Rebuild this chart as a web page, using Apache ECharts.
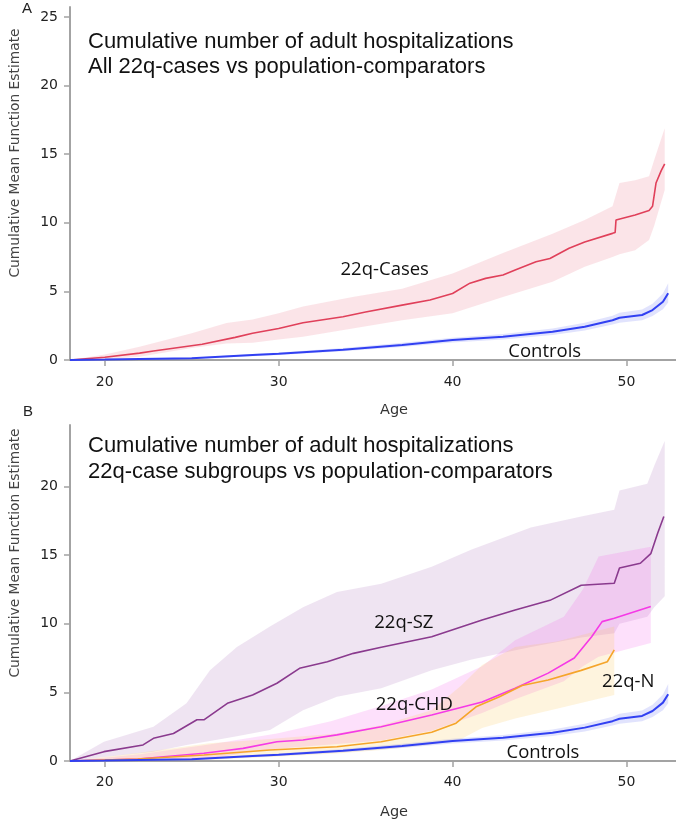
<!DOCTYPE html>
<html>
<head>
<meta charset="utf-8">
<script src="https://cdn.jsdelivr.net/npm/echarts@6/dist/echarts.min.js"></script>
<style>
  html, body { margin: 0; padding: 0; background: #fff; }
  #chart { width: 676px; height: 824px; }
</style>
</head>
<body>
<div id="chart"></div>
<script>
// tick labels
var xTicks = [20, 30, 40, 50];
var yTicksA = [0, 5, 10, 15, 20, 25];
var yTicksB = [0, 5, 10, 15, 20];

// panel A: all 22q cases
var casesAge = [18, 20, 22, 22.8, 25.6, 27.5, 28.5, 30, 31.4, 33.7, 35, 37.1, 38.7, 40, 41, 41.9, 42.9, 43.6, 44.8, 45.6, 46.7, 47.6, 49.2, 49.35, 49.4, 50.5, 51.3, 51.5, 51.7, 52, 52.2];
var casesVal = [0, 0.2, 0.5, 0.65, 1.15, 1.65, 1.95, 2.3, 2.72, 3.15, 3.5, 4.0, 4.37, 4.85, 5.6, 5.95, 6.2, 6.56, 7.16, 7.4, 8.14, 8.6, 9.23, 9.3, 10.2, 10.57, 10.9, 11.2, 12.9, 13.8, 14.3];
var casesBandAge = [18, 20, 22, 25, 27, 28.5, 30, 31.4, 34.25, 37.1, 40, 42.9, 45.75, 47.6, 49.2, 49.6, 50.5, 51.3, 51.6, 52.2];
var casesUpper = [0, 0.4, 0.97, 1.95, 2.7, 2.95, 3.4, 3.9, 4.6, 5.2, 6.3, 7.8, 9.2, 10.2, 11.2, 12.9, 13.1, 13.4, 14.6, 16.9];
var casesLower = [0, 0.05, 0.24, 0.87, 1.2, 1.25, 1.5, 1.7, 2.3, 2.9, 3.4, 4.6, 5.7, 6.8, 7.5, 7.7, 8.0, 8.75, 9.8, 12.4];

// controls (same comparator curve in both panels)
var ctrlAge = [18, 20, 25, 28.5, 30, 33.7, 37.1, 40, 42.9, 45.75, 47.6, 49.2, 49.6, 50.9, 51.5, 52.1, 52.4];
var ctrlVal = [0, 0.03, 0.12, 0.36, 0.45, 0.75, 1.1, 1.45, 1.7, 2.06, 2.43, 2.9, 3.08, 3.28, 3.64, 4.25, 4.86];
var ctrlLower = [0, 0.02, 0.08, 0.28, 0.36, 0.63, 0.95, 1.28, 1.5, 1.82, 2.15, 2.58, 2.72, 2.9, 3.2, 3.7, 4.2];
var ctrlUpper = [0, 0.04, 0.16, 0.44, 0.55, 0.88, 1.25, 1.62, 1.9, 2.3, 2.72, 3.22, 3.45, 3.68, 4.1, 4.85, 5.6];

// panel B: 22q-SZ
var szAge = [18, 19.95, 22.2, 22.8, 23.95, 25.3, 25.7, 27.05, 28.5, 29.9, 31.2, 32.8, 34.3, 35.9, 38.8, 41.7, 43.6, 45.6, 47.4, 49.3, 49.6, 50.8, 51.4, 51.8, 52.15];
var szVal = [0, 0.68, 1.17, 1.65, 2.0, 3.0, 3.0, 4.2, 4.8, 5.66, 6.75, 7.23, 7.84, 8.28, 9.05, 10.27, 11.0, 11.7, 12.8, 12.94, 14.05, 14.4, 15.1, 16.6, 17.8];
var szBandAge = [18, 19.95, 22.8, 24.7, 26.05, 27.6, 29.5, 31.4, 33.35, 35.9, 38.8, 41.1, 44.5, 47.4, 49.3, 49.6, 51.2, 51.6, 52.2];
var szUpper = [0, 1.4, 2.5, 4.2, 6.6, 8.3, 9.8, 11.2, 12.3, 12.9, 14.15, 15.4, 17.0, 17.8, 18.3, 19.7, 20.2, 21.5, 23.3];
var szLower = [0, 0.3, 0.68, 1.17, 1.45, 1.8, 2.26, 3.7, 4.68, 5.3, 6.6, 7.4, 8.3, 9.0, 9.3, 10.0, 10.5, 11.2, 12.0];

// panel B: 22q-CHD
var chdAge = [18, 21.9, 25.7, 27.2, 27.95, 29.9, 31.4, 33.35, 35.9, 38.8, 41.7, 43.6, 45.5, 47.0, 48.0, 48.6, 49.3, 51.4];
var chdVal = [0, 0.15, 0.56, 0.8, 0.92, 1.4, 1.53, 1.9, 2.5, 3.35, 4.3, 5.3, 6.4, 7.5, 9.05, 10.15, 10.4, 11.25];
var chdBandAge = [18, 22, 26, 29.9, 33, 35.9, 38.8, 41.7, 43.6, 46.4, 47.5, 48.4, 51.4];
var chdUpper = [0, 0.5, 1.2, 2.0, 2.9, 4.0, 5.2, 6.9, 8.8, 10.5, 12.5, 14.9, 15.6];
var chdLower = [0, 0.02, 0.2, 0.9, 1.2, 1.5, 2.2, 3.5, 4.5, 5.8, 6.9, 7.6, 8.6];

// panel B: 22q-N
var nAge = [18, 21.9, 25.7, 29.5, 33.35, 35.9, 38.8, 40.2, 41.35, 42.7, 44.0, 45.5, 47.4, 48.9, 49.3];
var nVal = [0, 0.15, 0.44, 0.8, 1.04, 1.4, 2.1, 2.75, 3.95, 4.68, 5.5, 5.9, 6.6, 7.23, 8.1];
var nBandAge = [18, 22, 26, 29.5, 33.35, 35.9, 38.8, 40.5, 41.7, 43.6, 46, 49.3];
var nUpper = [0, 0.6, 1.3, 1.6, 2.0, 2.6, 3.7, 5.5, 7.0, 8.3, 8.7, 9.8];
var nLower = [0, 0, 0.1, 0.3, 0.55, 0.8, 1.2, 1.6, 2.4, 3.1, 3.8, 4.8];

var tickFont = 'DejaVu Sans';
var axisGray = '#a3a3a3';

function pairs(xs, ys) {
    return xs.map(function (x, i) { return [x, ys[i]]; });
}

// confidence band drawn as one polygon through the axis scales
function band(idx, ages, lo, hi, fill) {
    return {
        type: 'custom',
        xAxisIndex: idx,
        yAxisIndex: idx,
        silent: true,
        z: 1,
        data: [[ages[0], lo[0]]],
        renderItem: function (params, api) {
            var pts = [];
            for (var i = 0; i < ages.length; i++) pts.push(api.coord([ages[i], hi[i]]));
            for (var j = ages.length - 1; j >= 0; j--) pts.push(api.coord([ages[j], lo[j]]));
            return { type: 'polygon', shape: { points: pts }, style: { fill: fill } };
        }
    };
}

function curve(idx, name, ages, vals, color, width, labelAt) {
    return {
        type: 'line',
        name: name,
        xAxisIndex: idx,
        yAxisIndex: idx,
        data: pairs(ages, vals),
        showSymbol: false,
        z: 3,
        lineStyle: { color: color, width: width },
        itemStyle: { color: color },
        markPoint: {
            symbol: 'circle',
            symbolSize: 1,
            itemStyle: { color: 'transparent' },
            label: {
                show: true,
                position: 'inside',
                formatter: name,
                color: '#111',
                fontSize: 18.5,
                fontFamily: 'Open Sans'
            },
            data: [{ coord: labelAt }]
        }
    };
}

function xAxisFor(idx, off, gap) {
    return {
        type: 'value',
        gridIndex: idx,
        min: 18,
        max: 52.85,
        offset: off,
        name: 'Age',
        nameLocation: 'middle',
        nameGap: gap,
        nameTextStyle: { color: '#333', fontSize: 14.5, fontFamily: tickFont, padding: [0, 0, 0, 42] },
        axisLine: { lineStyle: { color: axisGray, width: 2 } },
        axisTick: { show: true, length: 6, customValues: xTicks, lineStyle: { color: axisGray, width: 1.5 } },
        axisLabel: { customValues: xTicks, margin: 12, color: '#222', fontSize: 14, fontFamily: tickFont },
        splitLine: { show: false }
    };
}

function yAxisFor(idx, top, ticks, shift) {
    return {
        type: 'value',
        gridIndex: idx,
        min: 0,
        max: top,
        name: 'Cumulative Mean Function Estimate',
        nameLocation: 'middle',
        nameRotate: 90,
        nameGap: 48,
        nameTextStyle: { color: '#444', fontSize: 13.8, fontFamily: tickFont, padding: [0, 0, 0, shift] },
        axisLine: { show: true, lineStyle: { color: axisGray, width: 2 } },
        axisTick: { show: true, length: 6, customValues: ticks, lineStyle: { color: axisGray, width: 1.5 } },
        axisLabel: { customValues: ticks, margin: 12, color: '#222', fontSize: 14, fontFamily: tickFont },
        splitLine: { show: false }
    };
}

var titleStyle = { fontSize: 22, fontWeight: 'normal', fontFamily: 'Liberation Sans', color: '#111' };

var option = {
    animation: false,
    backgroundColor: '#fff',
    title: [{
        text: 'Cumulative number of adult hospitalizations\nAll 22q-cases vs population-comparators',
        left: 88, top: 29.5, padding: 0,
        textStyle: Object.assign({ lineHeight: 25 }, titleStyle)
    }, {
        text: 'Cumulative number of adult hospitalizations\n22q-case subgroups vs population-comparators',
        left: 88, top: 432.5, padding: 0,
        textStyle: Object.assign({ lineHeight: 26 }, titleStyle)
    }],
    graphic: [
        { type: 'text', left: 22, top: 1, style: { text: 'A', fontSize: 15, fontFamily: 'Liberation Sans', fill: '#222' } },
        { type: 'text', left: 23, top: 404, style: { text: 'B', fontSize: 15, fontFamily: 'Liberation Sans', fill: '#222' } }
    ],
    grid: [
        { left: 68, right: 0, top: 7, height: 353 },
        { left: 68, right: 0, top: 425, height: 336 }
    ],
    xAxis: [xAxisFor(0, 3, 40), xAxisFor(1, 2, 42)],
    yAxis: [yAxisFor(0, 25.73, yTicksA, 61), yAxisFor(1, 24.47, yTicksB, 80)],
    series: [
        band(0, casesBandAge, casesLower, casesUpper, 'rgba(228, 90, 110, 0.16)'),
        band(0, ctrlAge, ctrlLower, ctrlUpper, 'rgba(70, 80, 240, 0.16)'),
        curve(0, '22q-Cases', casesAge, casesVal, '#e0405a', 1.6, [36.1, 6.56]),
        curve(0, 'Controls', ctrlAge, ctrlVal, '#3140f2', 2, [45.3, 0.58]),

        band(1, szBandAge, szLower, szUpper, 'rgba(160, 95, 175, 0.17)'),
        band(1, chdBandAge, chdLower, chdUpper, 'rgba(245, 85, 235, 0.18)'),
        band(1, nBandAge, nLower, nUpper, 'rgba(252, 200, 90, 0.2)'),
        band(1, ctrlAge, ctrlLower, ctrlUpper, 'rgba(70, 80, 240, 0.16)'),
        curve(1, '22q-SZ', szAge, szVal, '#8a3a8e', 1.6, [37.2, 10.1]),
        curve(1, '22q-CHD', chdAge, chdVal, '#f53ae6', 1.6, [37.8, 4.08]),
        curve(1, '22q-N', nAge, nVal, '#f5a52a', 1.6, [50.1, 5.75]),
        curve(1, 'Controls', ctrlAge, ctrlVal, '#3140f2', 2, [45.2, 0.58])
    ]
};

var myChart = echarts.init(document.getElementById('chart'));
myChart.setOption(option, true);
</script>
</body>
</html>
